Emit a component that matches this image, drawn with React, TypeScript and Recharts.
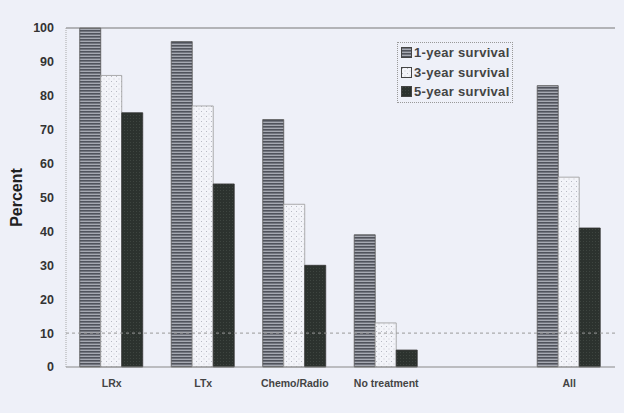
import React from "react";
import { BarChart, Bar, XAxis, YAxis, Legend, ReferenceLine, Label } from "recharts";

const categories = ["LRx", "LTx", "Chemo/Radio", "No treatment", "", "All"];
const oneYear = [100, 96, 73, 39, null, 83];
const threeYear = [86, 77, 48, 13, null, 56];
const fiveYear = [75, 54, 30, 5, null, 41];
const yTicks = [0, 10, 20, 30, 40, 50, 60, 70, 80, 90, 100];

const seriesNames = ["1-year survival", "3-year survival", "5-year survival"];

const data = categories.map((c, i) => ({
  name: c,
  y1: oneYear[i],
  y3: threeYear[i],
  y5: fiveYear[i],
}));

const BG = "#eef0f8";
const FONT = "Arial, 'Liberation Sans', sans-serif";

const swatchFill = ["url(#pat1)", "url(#pat3)", "url(#pat5)"];

const LegendContent = () => (
  <div
    style={{
      border: "1px dotted #999",
      padding: "0px 2px 0px 3px",
      fontFamily: FONT,
      fontWeight: "bold",
      fontSize: 13,
      letterSpacing: 0.3,
      color: "#444",
      lineHeight: "19.5px",
      background: BG,
    }}
  >
    {seriesNames.map((n, i) => (
      <div key={n} style={{ display: "flex", alignItems: "center", whiteSpace: "nowrap" }}>
        <svg width={11} height={11} style={{ marginRight: 2 }}>
          <rect x={0.5} y={0.5} width={10} height={10} fill={swatchFill[i]} stroke="#444" strokeWidth={1} />
        </svg>
        <span>{n}</span>
      </div>
    ))}
  </div>
);

export default function App() {
  return (
    <div style={{ position: "fixed", left: 0, top: 0, width: 624, height: 413, background: BG }}>
      <BarChart
        width={624}
        height={413}
        data={data}
        margin={{ top: 28, right: 9, bottom: 16, left: 26 }}
        barCategoryGap="15%"
        barGap={0}
      >
        <defs>
          <pattern id="pat1" width="4" height="3" patternUnits="userSpaceOnUse">
            <rect width="4" height="3" fill="#a6a9b2" />
            <rect width="4" height="1.6" fill="#50535c" />
          </pattern>
          <pattern id="pat3" width="5" height="5" patternUnits="userSpaceOnUse">
            <rect width="5" height="5" fill="#f3f4f9" />
            <rect x="1" y="1" width="1" height="1" fill="#b8bac4" />
            <rect x="3.5" y="3.5" width="1" height="1" fill="#c8cad2" />
          </pattern>
          <pattern id="pat5" width="3" height="3" patternUnits="userSpaceOnUse">
            <rect width="3" height="3" fill="#2c322e" />
            <rect x="1" y="1" width="1" height="1" fill="#3e4540" />
          </pattern>
        </defs>
        <XAxis
          dataKey="name"
          height={30}
          tickLine={false}
          axisLine={{ stroke: "#888" }}
          interval={0}
          tick={{ fill: "#444", fontSize: 10.5, fontWeight: "bold", fontFamily: FONT }}
          tickMargin={7}
        />
        <YAxis
          width={40}
          domain={[0, 100]}
          ticks={yTicks}
          interval={0}
          axisLine={{ stroke: "#aaa", strokeDasharray: "1 1" }}
          tickLine={false}
          tickMargin={6}
          tick={{ fill: "#333", fontSize: 12.5, fontWeight: "bold", fontFamily: FONT }}
        >
          <Label
            value="Percent"
            angle={-90}
            position="insideLeft"
            offset={-10}
            style={{ fill: "#222", fontSize: 16, fontWeight: "bold", fontFamily: FONT, textAnchor: "middle" }}
          />
        </YAxis>
        <YAxis yAxisId="right" orientation="right" width={0} domain={[0, 100]} tick={false} tickLine={false} axisLine={{ stroke: "#999" }} />
        <ReferenceLine y={10} stroke="#999" strokeDasharray="3 3" />
        <ReferenceLine y={100} stroke="#777" strokeWidth={1.2} />
        <Legend
          verticalAlign="middle"
          align="center"
          layout="vertical"
          wrapperStyle={{ position: "absolute", left: 397, top: 42, width: "auto", height: "auto" }}
          content={<LegendContent />}
        />
        <Bar dataKey="y1" name={seriesNames[0]} fill="url(#pat1)" stroke="#555" strokeWidth={0.8} isAnimationActive={false} />
        <Bar dataKey="y3" name={seriesNames[1]} fill="url(#pat3)" stroke="#999" strokeWidth={0.8} isAnimationActive={false} />
        <Bar dataKey="y5" name={seriesNames[2]} fill="url(#pat5)" stroke="#333" strokeWidth={0.8} isAnimationActive={false} />
      </BarChart>
    </div>
  );
}
